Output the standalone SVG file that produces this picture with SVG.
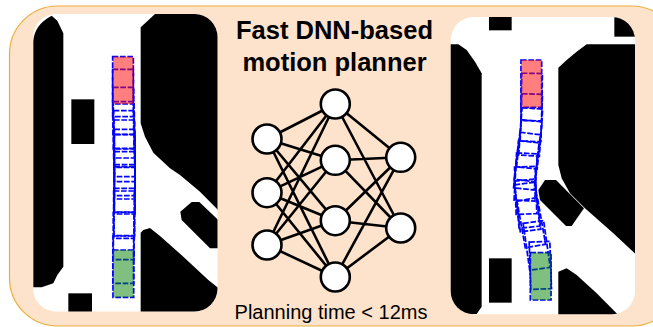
<svg xmlns="http://www.w3.org/2000/svg" width="653" height="327" viewBox="0 0 653 327">
<style>
.blk{fill:#000}
.car{fill:none;stroke:#0000ff;stroke-width:5.2;stroke-dasharray:17 5}
.red{fill:#ff0000;fill-opacity:.5}
.grn{fill:#008000;fill-opacity:.5}
.edge{stroke:#000;stroke-width:2.6;fill:none}
.nn{fill:#fff;stroke:#000;stroke-width:2.6}
.t{font-family:"Liberation Sans",Arial,sans-serif;fill:#000;text-anchor:middle}
</style>
<defs>
<clipPath id="clipL"><rect x="33" y="14" width="184.500" height="297.500" rx="23"/></clipPath>
<clipPath id="clipR"><rect x="450.700" y="17" width="184.300" height="297.300" rx="23"/></clipPath>
<rect id="c" x="-31" y="-71" width="62" height="142"/>
</defs>
<rect id="panel" x="9.500" y="6" width="670" height="320" rx="48" fill="#fee3cc" stroke="#e9ae3a" stroke-width="1.200"/>

<g id="map-left">
<rect x="33" y="14" width="184.500" height="297.500" fill="#fff" rx="23"/>
<g transform="scale(.33333)">
<path class="blk" d="M100 862V125Q102 75 155 47L172 62L190 100V800L172 825L160 850L125 862Z"/>
</g>
<g clip-path="url(#clipL)"><g transform="scale(.33333)">
<path class="blk" d="M422 82L440 65L465 42H660V636L600 575L540 525L510 505L460 458L435 410L422 370Z"/>
<path class="blk" d="M575 606H598L660 665V745H630L545 660L541 635Z"/>
<path class="blk" d="M422 698L430 690L450 684L480 708L550 770L625 840L660 868V940H422Z"/>
<rect class="blk" x="205" y="880" width="71" height="60"/>
<rect class="blk" x="214" y="298" width="69" height="134"/>
</g></g>
<g transform="scale(.33333)">
<g class="cars">
<use href="#c" class="car" x="369" y="241"/>
<use href="#c" class="car" x="369" y="279"/>
<use href="#c" class="car" x="370" y="333"/>
<use href="#c" class="car" x="371" y="376"/>
<use href="#c" class="car" x="372" y="403"/>
<use href="#c" class="car" x="373" y="431"/>
<use href="#c" class="car" x="374" y="459"/>
<use href="#c" class="car" x="374" y="474"/>
<use href="#c" class="car" x="374" y="516"/>
<use href="#c" class="car" x="374" y="526"/>
<use href="#c" class="car" x="374" y="565"/>
<use href="#c" class="car" x="374" y="571"/>
<use href="#c" class="car" x="373" y="636"/>
<use href="#c" class="car" x="372" y="644"/>
<use href="#c" class="car" x="371" y="708"/>
<use href="#c" class="car" x="370" y="779"/>
<use href="#c" class="car" x="370" y="821"/>
</g>
<rect class="red" x="339" y="170" width="61" height="142"/>
<rect class="grn" x="339" y="750" width="61" height="142"/>
</g>
</g>

<g id="map-right">
<rect x="450.700" y="17" width="184.300" height="297.300" fill="#fff" rx="23"/>
<g clip-path="url(#clipR)"><g transform="translate(430) scale(.33333)">
<path class="blk" d="M55 133H85L110 150L135 185L155 220V920L140 942H55Z"/>
<path class="blk" d="M385 203L410 180L440 155L470 133H620V765L550 700L465 625L420 580L395 535L385 495Z"/>
<path class="blk" d="M345 540H378L462 625L425 678H408L330 600L325 570Z"/>
<path class="blk" d="M385 815L410 805L440 825L500 880L565 945H385Z"/>
<rect class="blk" x="177" y="50" width="68" height="41"/>
<rect class="blk" x="553" y="50" width="65" height="60"/>
<rect class="blk" x="177" y="775" width="68" height="133"/>
</g></g>
<g transform="translate(430) scale(.33333)">
<g class="cars">
<use href="#c" class="car" transform="translate(304 251)"/>
<use href="#c" class="car" transform="translate(305 291) rotate(1)"/>
<use href="#c" class="car" transform="translate(304 353) rotate(2)"/>
<use href="#c" class="car" transform="translate(302 396) rotate(4)"/>
<use href="#c" class="car" transform="translate(298 433) rotate(6)"/>
<use href="#c" class="car" transform="translate(292 471) rotate(7)"/>
<use href="#c" class="car" transform="translate(289 496) rotate(6)"/>
<use href="#c" class="car" transform="translate(287 531) rotate(3)"/>
<use href="#c" class="car" transform="translate(287 571) rotate(-2)"/>
<use href="#c" class="car" transform="translate(291 611) rotate(-6)"/>
<use href="#c" class="car" transform="translate(293 621) rotate(-7)"/>
<use href="#c" class="car" transform="translate(304 668) rotate(-10)"/>
<use href="#c" class="car" transform="translate(320 736) rotate(-8)"/>
<use href="#c" class="car" transform="translate(331 796) rotate(-2)"/>
<use href="#c" class="car" transform="translate(332 829)"/>
</g>
<rect class="red" x="273" y="180" width="62" height="142"/>
<rect class="grn" x="302" y="758" width="60" height="142"/>
</g>
</g>

<g id="connectors">
<path class="edge" d="M267 139L335.300 104M267 139L335.300 160.300M267 139L335.300 220.700M267 139L335.300 277M267 192.700L335.300 104M267 192.700L335.300 160.300M267 192.700L335.300 220.700M267 192.700L335.300 277M267 245L335.300 104M267 245L335.300 160.300M267 245L335.300 220.700M267 245L335.300 277M335.300 104L400.700 157.300M335.300 104L400.700 228M335.300 160.300L400.700 157.300M335.300 160.300L400.700 228M335.300 220.700L400.700 157.300M335.300 220.700L400.700 228M335.300 277L400.700 157.300M335.300 277L400.700 228"/>
</g>
<g id="n1"><circle class="nn" cx="267" cy="139" r="14.500"/></g>
<g id="n2"><circle class="nn" cx="267" cy="192.700" r="14.500"/></g>
<g id="n3"><circle class="nn" cx="267" cy="245" r="14.500"/></g>
<g id="n4"><circle class="nn" cx="335.300" cy="104" r="14.500"/></g>
<g id="n5"><circle class="nn" cx="335.300" cy="160.300" r="14.500"/></g>
<g id="n6"><circle class="nn" cx="335.300" cy="220.700" r="14.500"/></g>
<g id="n7"><circle class="nn" cx="335.300" cy="277" r="14.500"/></g>
<g id="n8"><circle class="nn" cx="400.700" cy="157.300" r="14.500"/></g>
<g id="n9"><circle class="nn" cx="400.700" cy="228" r="14.500"/></g>

<g id="labels">
<text class="t" x="334.500" y="39" font-size="25.500" font-weight="700">Fast DNN-based</text>
<text class="t" x="334.500" y="71" font-size="25.500" font-weight="700">motion planner</text>
<text class="t" x="331" y="319" font-size="20">Planning time &lt; 12ms</text>
</g>
</svg>
